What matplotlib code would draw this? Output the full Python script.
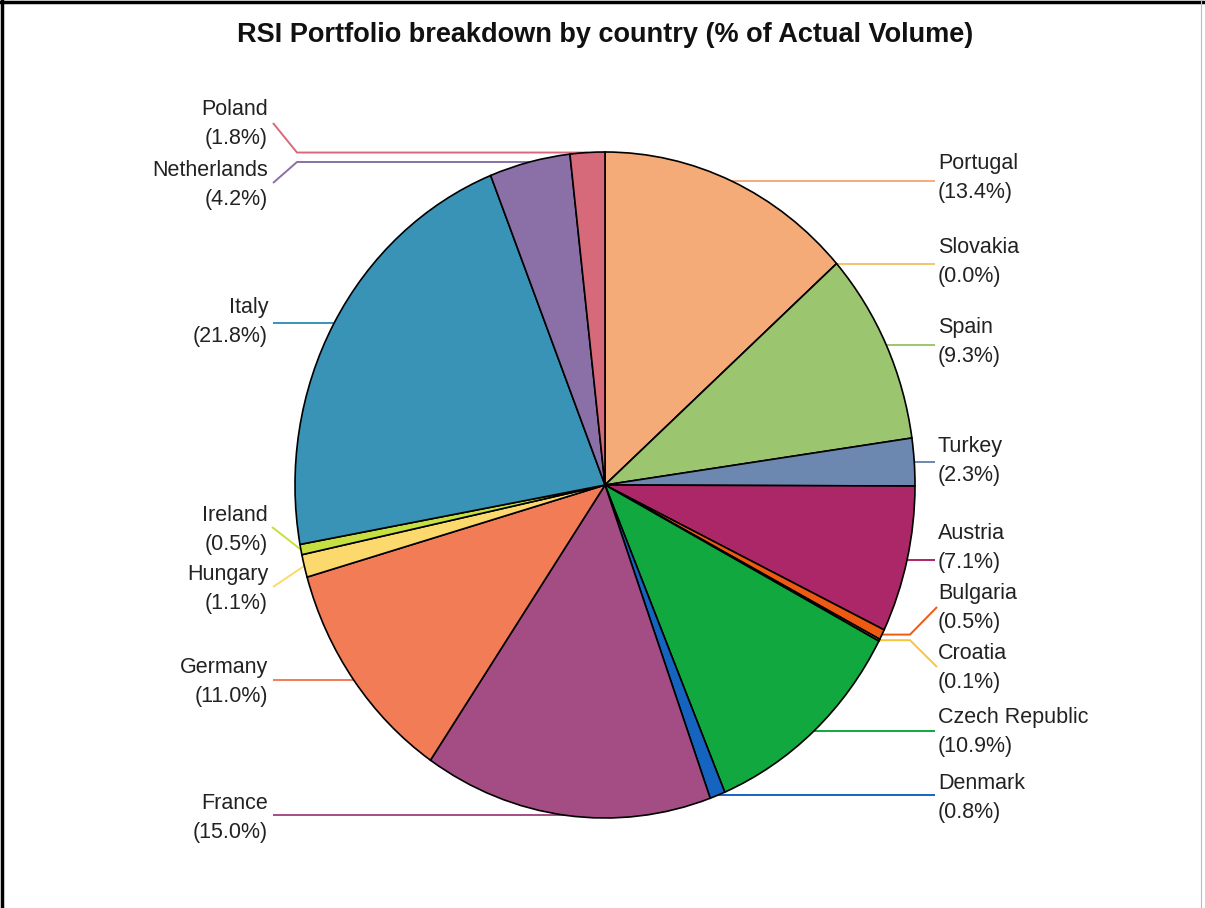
import matplotlib; matplotlib.use("Agg")
import matplotlib.pyplot as plt
import numpy as np
from matplotlib.lines import Line2D

countries = ["Portugal", "Slovakia", "Spain", "Turkey", "Austria", "Bulgaria", "Croatia",
             "Czech Republic", "Denmark", "France", "Germany", "Hungary", "Ireland",
             "Italy", "Netherlands", "Poland"]
shares = [13.4, 0.0, 9.3, 2.3, 7.1, 0.5, 0.1, 10.9, 0.8, 15.0, 11.0, 1.1, 0.5, 21.8, 4.2, 1.8]
colors = ["#F5AB78", "#F2C46E", "#9CC570", "#6C87B0", "#AC2767", "#EF5A13", "#F4C73A",
          "#11A83F", "#1565C0", "#A44D84", "#F27C55", "#FCD96C", "#C6E041",
          "#3993B7", "#8A70A6", "#D76A7A"]

W, H = 1205, 908
CX, CY, RX, RY = 605, 485, 310, 333

def px(x, y):
    # pixel position -> data coords of the pie axes
    return (x - CX) / RX, (CY - y) / RY

# label placement: side, text y (pixel), leader elbow x, leader end (x, y); None = straight
layout = {
    "Portugal":       ("R", 178, None, None),
    "Slovakia":       ("R", 262, None, None),
    "Spain":          ("R", 342, None, None),
    "Turkey":         ("R", 461, None, None),
    "Austria":        ("R", 548, None, None),
    "Bulgaria":       ("R", 608, 910, (937, 607)),
    "Croatia":        ("R", 668, 910, (937, 667)),
    "Czech Republic": ("R", 732, None, None),
    "Denmark":        ("R", 798, None, None),
    "France":         ("L", 818, None, None),
    "Germany":        ("L", 682, None, None),
    "Hungary":        ("L", 589, None, (273, 587)),
    "Ireland":        ("L", 530, None, (272, 527)),
    "Italy":          ("L", 322, None, None),
    "Netherlands":    ("L", 185, 297, (273, 183)),
    "Poland":         ("L", 124, 297, (273, 123)),
}

plt.rcParams["font.family"] = ["Liberation Sans", "DejaVu Sans"]
fig = plt.figure(figsize=(W / 100, H / 100), dpi=100)
ax = fig.add_axes([0, 0, 1, 1])

wedges, _ = ax.pie(shares, colors=colors, startangle=90, counterclock=False,
                   wedgeprops=dict(edgecolor="black", linewidth=1.2))
ax.set_xlim(-CX / RX, (W - CX) / RX)
ax.set_ylim(-(H - CY) / RY, CY / RY)
ax.set_aspect("auto")
ax.axis("off")

for w, name, val, col in zip(wedges, countries, shares, colors):
    side, ty, elbow_x, end = layout[name]
    mid = np.deg2rad((w.theta1 + w.theta2) / 2)
    ax_, ay_ = np.cos(mid), np.sin(mid)
    a_px = (CX + ax_ * RX, CY - ay_ * RY)
    xs, ys = [a_px[0]], [a_px[1]]
    if end is None:
        xs.append(935 if side == "R" else 273); ys.append(a_px[1])
    else:
        if elbow_x is not None:
            xs.append(elbow_x); ys.append(a_px[1])
        xs.append(end[0]); ys.append(end[1])
    dx, dy = zip(*[px(x, y) for x, y in zip(xs, ys)])
    ax.plot(dx, dy, color=col, lw=1.4, solid_capstyle="butt", zorder=0)
    tx = 938 if side == "R" else 268
    ax.text(*px(tx, ty), f"{name}\n({val:.1f}%)", ha="left" if side == "R" else "right",
            va="center", fontsize=15.5, color="#222222", linespacing=1.45)

fig.text(605 / W, 1 - 35 / H, "RSI Portfolio breakdown by country (% of Actual Volume)",
         ha="center", va="center", fontsize=19.5, fontweight="bold", color="#111111")

# frame edges
fig.add_artist(Line2D([0, 1], [1 - 1.5 / H, 1 - 1.5 / H], color="black", lw=2.5))
fig.add_artist(Line2D([1.5 / W, 1.5 / W], [0, 1], color="black", lw=2.5))
fig.add_artist(Line2D([1 - 4 / W, 1 - 4 / W], [0, 1], color="#bbbbbb", lw=0.8))

fig.savefig("out.png", dpi=100)
